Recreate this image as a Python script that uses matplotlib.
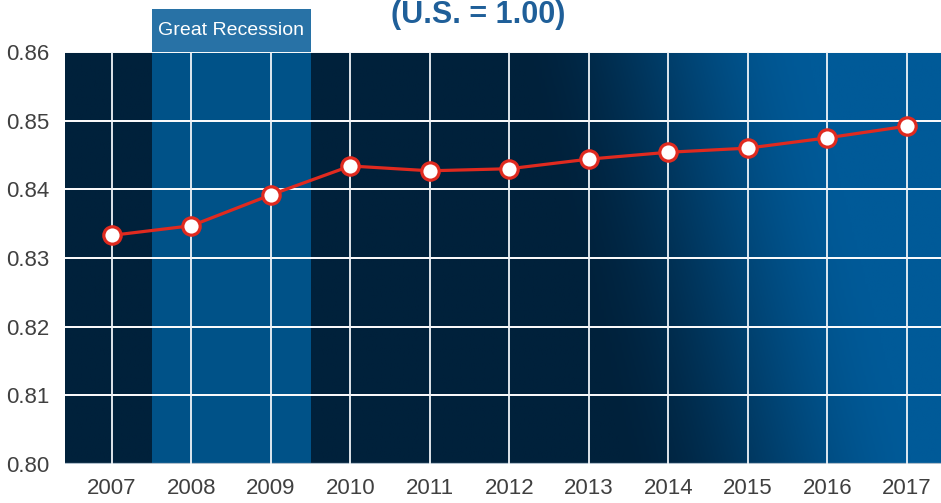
import numpy as np
import matplotlib.pyplot as plt
from matplotlib.colors import LinearSegmentedColormap
from matplotlib.patches import Rectangle
import matplotlib.transforms as mtransforms

years = [2007, 2008, 2009, 2010, 2011, 2012, 2013, 2014, 2015, 2016, 2017]
ratio = [0.8333, 0.8347, 0.8392, 0.8434, 0.8427, 0.8430, 0.8444, 0.8454, 0.8460, 0.8475, 0.8492]
y_ticks = [0.80, 0.81, 0.82, 0.83, 0.84, 0.85, 0.86]
recession = (2007.5, 2009.5)

plt.rcParams['font.family'] = ['Liberation Sans', 'DejaVu Sans']

fig = plt.figure(figsize=(9.41, 5.03), dpi=100)
ax = fig.add_axes([65 / 941, 1 - 464 / 503, 1 - 65 / 941, (464 - 52) / 503])

x0, x1 = 2006.41, 2017.43
ax.set_xlim(x0, x1)
ax.set_ylim(0.80, 0.86)

# background: dark navy on the left, fading to blue on the right (slightly diagonal)
u = np.linspace(0, 1, 400)
v = np.linspace(0, 1, 200)
U, V = np.meshgrid(u, v)
s = (U + 0.12 * V - 0.63) / (0.98 - 0.63)
s = np.clip(s, 0, 1)
s = s * s * (3 - 2 * s)
cmap = LinearSegmentedColormap.from_list('bg', ['#00213b', '#005a98'])
ax.imshow(s, cmap=cmap, extent=[x0, x1, 0.80, 0.86], origin='lower',
          aspect='auto', zorder=0, interpolation='bilinear')

# recession band + its label box above the plot
ax.axvspan(recession[0], recession[1], color='#005288', zorder=1, lw=0)
trans = mtransforms.blended_transform_factory(ax.transData, ax.transAxes)
box_h = 43 / 412
ax.add_patch(Rectangle((recession[0], 1.0), recession[1] - recession[0], box_h,
                       transform=trans, color='#2872a6', clip_on=False, lw=0, zorder=1))
ax.text(sum(recession) / 2, 1.0 + box_h / 2, 'Great Recession', transform=trans,
        ha='center', va='center', color='white', fontsize=14)

# grid
for yv in y_ticks[1:]:
    ax.axhline(yv, color='white', lw=1.4, zorder=2)
ax.axhline(0.80, color='#b0bfcc', lw=1.6, zorder=2)
for xv in years:
    ax.axvline(xv, color='#f0f4f8', lw=1.3, zorder=2)

ax.plot(years, ratio, color='#e02a1f', lw=2.3, marker='o', markersize=12.5,
        markerfacecolor='white', markeredgecolor='#e02a1f', markeredgewidth=2.3,
        zorder=4, clip_on=False)

ax.set_xticks(years)
ax.set_xticklabels([str(y) for y in years])
ax.set_yticks(y_ticks)
ax.set_yticklabels([f'{t:.2f}' for t in y_ticks])
ax.tick_params(length=0, labelsize=16, colors='#404040')
ax.tick_params(axis='y', pad=11)
ax.tick_params(axis='x', pad=10)
for sp in ax.spines.values():
    sp.set_visible(False)

fig.text(478 / 941, 1 - 23 / 503, '(U.S. = 1.00)', ha='center', va='baseline',
         fontsize=22, fontweight='bold', color='#1f5f99')

fig.savefig('out.png', dpi=100)
